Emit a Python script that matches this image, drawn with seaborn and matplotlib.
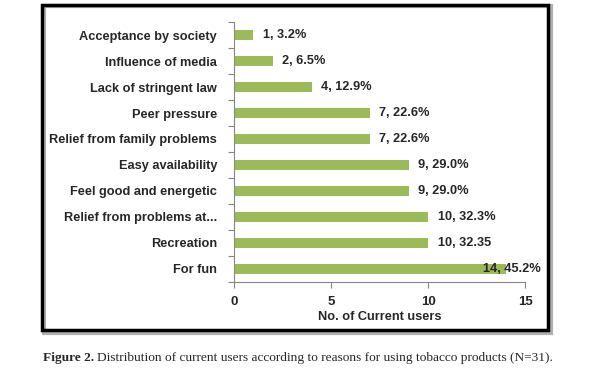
#!/usr/bin/env python3
"""
Reasons for using tobacco products among current users (horizontal bar chart)
"""

import matplotlib
matplotlib.use("Agg")
import matplotlib.pyplot as plt
import matplotlib.patches as patches
import pandas as pd
import seaborn as sns

# Data, top to bottom as shown in the chart
reasons = [
    "Acceptance by society",
    "Influence of media",
    "Lack of stringent law",
    "Peer pressure",
    "Relief from family problems",
    "Easy availability",
    "Feel good and energetic",
    "Relief from problems at...",
    "Recreation",
    "For fun",
]
users = [1, 2, 4, 7, 7, 9, 9, 10, 10, 14]
labels = [
    "1, 3.2%", "2, 6.5%", "4, 12.9%", "7, 22.6%", "7, 22.6%",
    "9, 29.0%", "9, 29.0%", "10, 32.3%", "10, 32.35", "14, 45.2%",
]
x_ticks = [0, 5, 10, 15]

BAR_GREEN = "#9BBB59"
TEXT = "#262626"
FONT = "Liberation Sans"


def main():
    sns.set_style("white")
    plt.rcParams["font.family"] = [FONT, "DejaVu Sans"]

    df = pd.DataFrame({"reason": reasons, "users": users})

    fig = plt.figure(figsize=(5.92, 3.73), dpi=100)
    ax = fig.add_axes([0.395, 0.244, 0.492, 0.697])

    sns.barplot(data=df, x="users", y="reason", orient="h", color=BAR_GREEN,
                saturation=1, width=0.4, linewidth=0, ax=ax)

    ax.set_xlim(0, 15)
    ax.set_ylim(9.5, -0.5)
    ax.set_xticks(x_ticks)
    ax.set_xticklabels([str(t) for t in x_ticks], fontsize=9.5, fontweight="bold", color=TEXT)
    ax.set_yticks(range(len(reasons)))
    ax.set_yticklabels(reasons, fontsize=9.2, fontweight="bold", color=TEXT)
    ax.set_yticks([i - 0.5 for i in range(len(reasons) + 1)], minor=True)
    ax.tick_params(axis="y", which="major", length=0, pad=12)
    ax.tick_params(axis="y", which="minor", length=4, width=0.8, color="#868686", direction="out", left=True)
    ax.tick_params(axis="x", which="major", length=4, width=0.8, color="#868686", direction="out", bottom=True, pad=6)

    ax.set_xlabel("No. of Current users", fontsize=9.2, fontweight="bold", color=TEXT, labelpad=2)
    ax.set_ylabel("")

    for side in ["top", "right"]:
        ax.spines[side].set_visible(False)
    for side in ["left", "bottom"]:
        ax.spines[side].set_color("#868686")
        ax.spines[side].set_linewidth(0.8)

    # data labels
    for i, (v, lab) in enumerate(zip(users, labels)):
        if v + 0.5 + 3.3 > 15.8:
            ax.text(15.8, i, lab, ha="right", va="center", fontsize=9.2,
                    fontweight="bold", color=TEXT, clip_on=False)
        else:
            ax.text(v + 0.5, i, lab, ha="left", va="center", fontsize=9.2,
                    fontweight="bold", color=TEXT)

    # frame with shadow around the chart
    shadow = patches.Rectangle((0.074, 0.108), 0.857, 0.876, transform=fig.transFigure,
                               facecolor="none", edgecolor="#b0b0b0", linewidth=3, zorder=0)
    frame = patches.Rectangle((0.071, 0.115), 0.855, 0.872, transform=fig.transFigure,
                              facecolor="none", edgecolor="black", linewidth=2.5, zorder=1)
    fig.patches.extend([shadow, frame])

    # caption: bold "Figure 2." followed by normal text
    renderer = fig.canvas.get_renderer()
    head = fig.text(0.073, 0.04, "Figure 2.", fontsize=9.6, fontweight="bold",
                    family=["Liberation Serif"], ha="left", va="center")
    bb = head.get_window_extent(renderer=renderer)
    x_rest = (bb.x1 + 3) / fig.bbox.width
    fig.text(x_rest, 0.04,
             "Distribution of current users according to reasons for using tobacco products (N=31).",
             fontsize=9.6, family=["Liberation Serif"], ha="left", va="center")

    fig.savefig("out.png", dpi=100)


if __name__ == "__main__":
    main()
